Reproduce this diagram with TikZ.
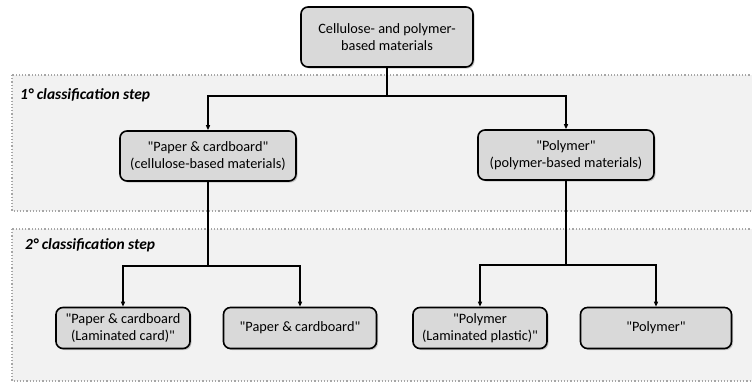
\documentclass[tikz,border=0pt]{standalone}
\usepackage{fontspec}
\setmainfont{Carlito}[Ligatures=TeXOff]
\usetikzlibrary{shadows,arrows.meta}
\definecolor{boxfill}{HTML}{D9D9D9}
\definecolor{panelfill}{HTML}{F2F2F2}
\definecolor{paneledge}{HTML}{A6A6A6}
\begin{document}
\begin{tikzpicture}[x=1pt,y=-1pt,
  matbox/.style={draw=black, line width=1.6pt, fill=boxfill, rounded corners=7pt,
    align=center, font=\fontsize{14.3}{17}\selectfont, inner sep=0pt,
    drop shadow={shadow xshift=1.5pt, shadow yshift=-1.5pt, opacity=0.4}},
  panel/.style={draw=paneledge, fill=panelfill, line width=1.2pt, dotted},
  conn/.style={line width=1.4pt, -{Triangle[length=5pt,width=4pt]}},
  plain/.style={line width=1.4pt},
  steplabel/.style={anchor=west, font=\fontsize{15.5}{18}\selectfont\bfseries\itshape, inner sep=0pt}]
\useasboundingbox (0,0) rectangle (752,383);
\fill[white] (0,0) rectangle (752,383);
\begin{scope}
\clip (0,0) rectangle (752,383);
\draw[panel] (12,75) rectangle (760,211);
\draw[panel] (12,229) rectangle (760,381);
\end{scope}
\node[steplabel] (s1) at (20,95) {1° classification step};
\node[steplabel] (s2) at (25,245) {2° classification step};
\node[matbox, minimum width=172pt, minimum height=60pt] (top) at (387,37) {Cellulose- and polymer-\\based materials};
\node[matbox, minimum width=176pt, minimum height=50pt] (pc) at (208,156) {"Paper \& cardboard"\\(cellulose-based materials)};
\node[matbox, minimum width=176pt, minimum height=50pt] (po) at (566,155) {"Polymer"\\(polymer-based materials)};
\node[matbox, minimum width=134pt, minimum height=41pt] (pcl) at (123,328) {"Paper \& cardboard\\(Laminated card)"};
\node[matbox, minimum width=153pt, minimum height=41pt] (pcc) at (300,328) {"Paper \& cardboard"};
\node[matbox, minimum width=134pt, minimum height=41pt] (pol) at (480,328) {"Polymer\\(Laminated plastic)"};
\node[matbox, minimum width=151pt, minimum height=41pt] (poc) at (656,328) {"Polymer"};
\coordinate (j0) at (top.south |- 0,96);
\draw[plain] (top.south) -- (j0);
\draw[conn] (j0) -| (pc.north);
\draw[conn] (j0) -| (po.north);
\coordinate (j1) at (pc.south |- 0,266);
\draw[plain] (pc.south) -- (j1);
\draw[conn] (j1) -| (pcl.north);
\draw[conn] (j1) -| (pcc.north);
\coordinate (j2) at (po.south |- 0,265);
\draw[plain] (po.south) -- (j2);
\draw[conn] (j2) -| (pol.north);
\draw[conn] (j2) -| (poc.north);
\end{tikzpicture}
\end{document}
